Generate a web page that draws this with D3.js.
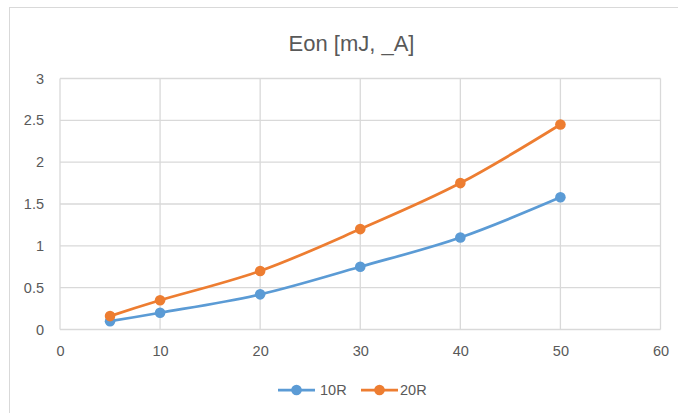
<!DOCTYPE html>
<html>
<head>
<meta charset="utf-8">
<script src="https://cdn.jsdelivr.net/npm/d3@7"></script>
<style>
  html, body { margin: 0; padding: 0; background: #fff; }
  svg { display: block; }
  text { font-family: "Liberation Sans", Arial, sans-serif; fill: #595959; }
</style>
</head>
<body>
<svg id="chart" width="678" height="413"></svg>
<script>
// Load current (A) on the x axis
const currents = [5, 10, 20, 30, 40, 50];
// Turn-on energy (mJ) per gate resistor
const eon10R = [0.1, 0.2, 0.42, 0.75, 1.1, 1.58];
const eon20R = [0.16, 0.35, 0.7, 1.2, 1.75, 2.45];
const seriesNames = ["10R", "20R"];
const seriesColors = ["#5B9BD5", "#ED7D31"];
const xTicks = [0, 10, 20, 30, 40, 50, 60];
const yTicks = [0, 0.5, 1, 1.5, 2, 2.5, 3];
const chartTitle = "Eon [mJ, _A]";

const svg = d3.select("#chart");
const W = 678, H = 413;
const plot = { left: 60, right: 660.5, top: 78.5, bottom: 329.5 };

// Chart frame (runs off the right and bottom edges)
svg.append("rect")
  .attr("x", 9.5).attr("y", 7.5)
  .attr("width", W + 20).attr("height", H + 20)
  .attr("fill", "#fff").attr("stroke", "#d9d9d9").attr("stroke-width", 1);

const x = d3.scaleLinear().domain([0, 60]).range([plot.left, plot.right]);
const y = d3.scaleLinear().domain([0, 3]).range([plot.bottom, plot.top]);

// Gridlines
const grid = svg.append("g").attr("stroke", "#d9d9d9").attr("stroke-width", 1.3);
grid.selectAll("line.h").data(yTicks).join("line")
  .attr("x1", plot.left).attr("x2", plot.right)
  .attr("y1", d => y(d)).attr("y2", d => y(d));
grid.selectAll("line.v").data(xTicks).join("line")
  .attr("y1", plot.top).attr("y2", plot.bottom)
  .attr("x1", d => x(d)).attr("x2", d => x(d));

// Axes (labels only, Excel style)
const yAxis = svg.append("g").attr("transform", `translate(${plot.left},0)`)
  .call(d3.axisLeft(y).tickValues(yTicks).tickSize(0).tickPadding(16).tickFormat(d3.format("")));
const xAxis = svg.append("g").attr("transform", `translate(0,${plot.bottom})`)
  .call(d3.axisBottom(x).tickValues(xTicks).tickSize(0).tickPadding(16).tickFormat(d3.format("")));
[yAxis, xAxis].forEach(a => {
  a.select(".domain").remove();
  a.selectAll("text").attr("font-size", 14.5).attr("fill", "#595959")
    .attr("font-family", "'Liberation Sans', Arial, sans-serif");
});

// Title
svg.append("text")
  .attr("x", 351.5).attr("y", 51)
  .attr("text-anchor", "middle")
  .attr("font-size", 22)
  .text(chartTitle);

// Series
const series = [eon10R, eon20R].map((vals, i) => ({
  name: seriesNames[i],
  color: seriesColors[i],
  points: currents.map((c, j) => ({ x: c, y: vals[j] }))
}));

const line = d3.line()
  .x(d => x(d.x)).y(d => y(d.y))
  .curve(d3.curveCardinal.tension(0));

series.forEach(s => {
  const g = svg.append("g");
  g.append("path")
    .attr("d", line(s.points))
    .attr("fill", "none")
    .attr("stroke", s.color)
    .attr("stroke-width", 2.75)
    .attr("stroke-linecap", "round");
  g.selectAll("circle").data(s.points).join("circle")
    .attr("cx", d => x(d.x)).attr("cy", d => y(d.y))
    .attr("r", 5.3)
    .attr("fill", s.color);
});

// Legend
const legendY = 390;
const legendItems = [
  { x0: 278, x1: 315, tx: 320 },
  { x0: 361, x1: 398, tx: 400 }
];
series.forEach((s, i) => {
  const li = legendItems[i];
  const g = svg.append("g");
  g.append("line")
    .attr("x1", li.x0).attr("x2", li.x1)
    .attr("y1", legendY).attr("y2", legendY)
    .attr("stroke", s.color).attr("stroke-width", 2.75);
  g.append("circle")
    .attr("cx", (li.x0 + li.x1) / 2).attr("cy", legendY)
    .attr("r", 5.3).attr("fill", s.color);
  g.append("text")
    .attr("x", li.tx).attr("y", legendY)
    .attr("dy", "0.36em")
    .attr("font-size", 14.5)
    .text(s.name);
});
</script>
</body>
</html>
